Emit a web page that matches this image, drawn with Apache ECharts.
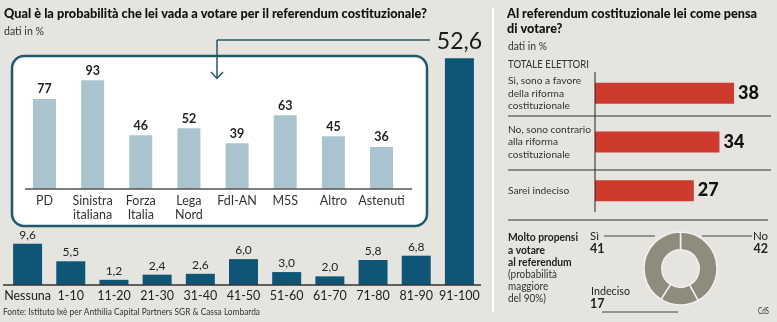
<!DOCTYPE html>
<html><head><meta charset="utf-8">
<script src="https://cdn.jsdelivr.net/npm/echarts@6/dist/echarts.min.js"></script>
<style>html,body{margin:0;padding:0;background:#e6e4df}#c{width:777px;height:322px}</style>
</head><body><div id="c"></div>
<script>
const probCategories = ['Nessuna','1-10','11-20','21-30','31-40','41-50','51-60','61-70','71-80','81-90','91-100'];
const probValues = [9.6,5.5,1.2,2.4,2.6,6.0,3.0,2.0,5.8,6.8,52.6];
const partyCategories = ['PD','Sinistra\nitaliana','Forza\nItalia','Lega\nNord','FdI-AN','M5S','Altro','Astenuti'];
const partyValues = [77,93,46,52,39,63,45,36];
const voteCategories = ['Sì, sono a favore\ndella riforma\ncostituzionale','No, sono contrario\nalla riforma\ncostituzionale','Sarei indeciso'];
const voteValues = [38,34,27];
const donutNames = ['No','Indeciso','Sì'];
const donutValues = [42,17,41];

const FONT = 'Lato, "Liberation Sans", sans-serif';
const fmt = v => v.toFixed(1).replace('.', ',');
const LINE = '#2b2b2b';
const TEAL = '#24596f';

function txt(text, x, y, opt) {
  opt = opt || {};
  return { type: 'text', z: 10, style: {
    text: text, x: x, y: y, fill: opt.fill || '#222',
    fontSize: opt.size || 11, fontFamily: opt.family || FONT, fontWeight: opt.weight || 'normal',
    textAlign: opt.align || 'left', align: opt.align || 'left',
    textVerticalAlign: opt.va || 'middle', verticalAlign: opt.va || 'middle',
    lineHeight: opt.lh || undefined
  } };
}
const measureCtx = document.createElement('canvas').getContext('2d');
function fitTxt(text, x, y, target, opt) {
  opt = opt || {};
  const el = txt(text, 0, 0, opt);
  measureCtx.font = (opt.weight || 'normal') + ' ' + (opt.size || 11) + 'px ' + (opt.family || FONT);
  const w = Math.max.apply(null, text.split('\n').map(l => measureCtx.measureText(l).width));
  el.x = x; el.y = y; el.scaleX = target / w;
  return el;
}
function line(x1, y1, x2, y2, color, w) {
  return { type: 'line', z: 10, shape: { x1, y1, x2, y2 }, style: { stroke: color || LINE, lineWidth: w || 1 } };
}
const donutMap = {};
donutNames.forEach((n, i) => donutMap[n] = donutValues[i]);

const chart = echarts.init(document.getElementById('c'), null, { renderer: 'canvas' });
chart.setOption({
  backgroundColor: '#e6e4df',
  animation: false,
  textStyle: { fontFamily: FONT },
  grid: [
    { left: 6, top: 58.3, width: 475, height: 226.7 },
    { left: 20.4, top: 72, width: 385.2, height: 117, z: 5 },
    { left: 595, top: 69, width: 164.7, height: 146 }
  ],
  xAxis: [
    { type: 'category', gridIndex: 0, data: probCategories, axisLine: { show: false }, axisTick: { show: false },
      axisLabel: { interval: 0, margin: 4, fontSize: 12.5, color: '#222', fontFamily: FONT } },
    { type: 'category', gridIndex: 1, data: partyCategories, axisLine: { show: false }, axisTick: { show: false }, z: 8,
      axisLabel: { interval: 0, margin: 5, fontSize: 12.5, lineHeight: 14, color: '#333', fontFamily: FONT } },
    { type: 'value', gridIndex: 2, min: 0, max: 45, show: false }
  ],
  yAxis: [
    { type: 'value', gridIndex: 0, min: 0, max: 52.6, show: false },
    { type: 'value', gridIndex: 1, min: 0, max: 100, show: false },
    { type: 'category', gridIndex: 2, data: voteCategories, inverse: true, axisLine: { show: false }, axisTick: { show: false },
      axisLabel: { align: 'left', margin: 87, fontSize: 10.2, lineHeight: 12.5, color: '#333', fontFamily: FONT } }
  ],
  series: [
    { type: 'bar', xAxisIndex: 0, yAxisIndex: 0, barWidth: 29, itemStyle: { color: '#0f5575' },
      label: { show: true, position: 'top', distance: 3, fontSize: 12, color: '#222', formatter: p => fmt(p.value) },
      data: probValues.map((v, i) => i === probValues.length - 1
        ? { value: v, label: { fontSize: 23, distance: 5, color: '#1a1a1a' } } : v),
      silent: true, z: 2 },
    { type: 'bar', xAxisIndex: 1, yAxisIndex: 1, barWidth: 23, itemStyle: { color: '#a9c4ce' },
      label: { show: true, position: 'top', distance: 3, fontSize: 12.5, color: '#222', fontWeight: 'bold' },
      data: partyValues, silent: true, z: 5 },
    { type: 'bar', xAxisIndex: 2, yAxisIndex: 2, barWidth: 21, itemStyle: { color: '#cf3a2f' },
      label: { show: true, position: 'right', distance: 4, fontSize: 18, fontWeight: 900, color: '#111' },
      data: voteValues, silent: true },
    { type: 'pie', center: [680.5, 268.5], radius: [18.7, 36.5], startAngle: 90, clockwise: true,
      label: { show: false }, labelLine: { show: false }, silent: true,
      itemStyle: { color: '#8e8c7d', borderColor: '#f2f1ee', borderWidth: 1.5 },
      data: donutNames.map((n, i) => ({ name: n, value: donutValues[i] })) }
  ],
  graphic: [
    { type: 'rect', z: 1, shape: { x: 12, y: 56, width: 415, height: 170, r: 12 },
      style: { fill: '#ffffff', stroke: '#1d5a72', lineWidth: 2.5 } },
    { type: 'rect', z: 1, shape: { x: 492, y: 8, width: 2, height: 304 }, style: { fill: '#ffffff' } },
    fitTxt('Qual è la probabilità che lei vada a votare per il referendum costituzionale?', 4, 14, 423, { size: 13.5, weight: 900, fill: '#111' }),
    fitTxt('dati in %', 4, 31, 40, { size: 11, fill: '#333' }),
    line(217, 40, 430, 40, TEAL, 1.5),
    line(217, 40, 217, 78, TEAL, 1.5),
    { type: 'polyline', z: 10, shape: { points: [[211, 72], [217, 78.5], [223, 72]] }, style: { stroke: TEAL, lineWidth: 1.5, fill: null } },
    line(25, 189, 412, 189, '#555', 1.5),
    line(3, 285, 481, 285, '#333', 1.5),
    fitTxt('Fonte: Istituto Ixè per Anthilia Capital Partners SGR & Cassa Lombarda', 3, 312, 257, { size: 10, fill: '#333' }),

    fitTxt('Al referendum costituzionale lei come pensa\ndi votare?', 507, 6.5, 250, { size: 13.5, weight: 900, fill: '#111', va: 'top', lh: 15 }),
    fitTxt('dati in %', 508, 46, 39, { size: 11, fill: '#333' }),
    fitTxt('TOTALE ELETTORI', 508, 64.5, 81, { size: 11, fill: '#333' }),
    line(595, 72, 595, 212, '#222', 1),
    line(508, 116, 771, 116, '#333', 1),
    line(508, 170, 771, 170, '#333', 1),
    line(508, 220, 768, 220, '#333', 1),
    fitTxt('Molto propensi\na votare\nal referendum', 508, 231.5, 70, { size: 11, weight: 'bold', fill: '#222', va: 'top', lh: 12.5 }),
    fitTxt('(probabilità\nmaggiore\ndel 90%)', 508, 268.5, 49, { size: 11, fill: '#333', va: 'top', lh: 11.8 }),
    txt('Sì', 590, 236.5, { size: 11.5 }),
    txt(String(donutMap['Sì']), 590, 249, { size: 12.5, weight: 'bold' }),
    line(604, 236, 655, 236, '#444', 1),
    txt('No', 768, 236.5, { size: 11.5, align: 'right' }),
    txt(String(donutMap['No']), 768, 249, { size: 12.5, weight: 'bold', align: 'right' }),
    line(702, 236, 752, 236, '#444', 1),
    fitTxt('Indeciso', 591, 291, 39, { size: 11.5 }),
    txt(String(donutMap['Indeciso']), 590, 304, { size: 12.5, weight: 'bold' }),
    line(602, 312, 678, 312, '#444', 1),
    fitTxt('CdS', 769, 311, 11, { size: 9, align: 'right', fill: '#333' })
  ]
});
</script></body></html>
